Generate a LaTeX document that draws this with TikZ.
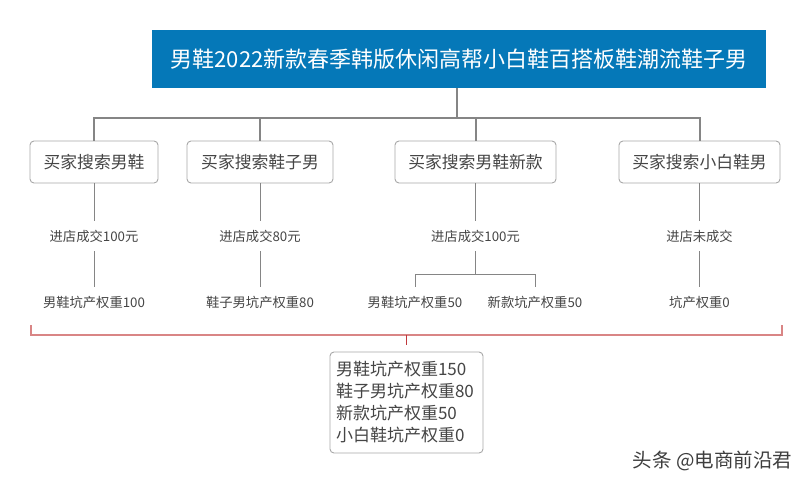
\documentclass[tikz,border=0pt]{standalone}
\usepackage{fontspec}
\setmainfont{Noto Sans CJK SC}
\definecolor{titleblue}{HTML}{0578B8}
\definecolor{linegray}{HTML}{858585}
\definecolor{boxgray}{HTML}{A8A8A8}
\definecolor{txt}{HTML}{454545}
\definecolor{redline}{HTML}{D98585}
\definecolor{redtick}{HTML}{C0383C}
\begin{document}
\begin{tikzpicture}[x=1pt,y=-1pt,
  titlebox/.style={fill=titleblue,text=white,inner sep=0,minimum width=614,minimum height=58,font=\fontsize{22}{26}\selectfont},
  searchbox/.style={draw=boxgray,line width=0.9pt,rounded corners=4pt,fill=white,text=txt,inner sep=0,minimum height=42,font=\fontsize{16.8}{20}\selectfont},
  lbl/.style={text=txt,inner sep=0,minimum height=30,font=\fontsize{13.3}{16}\selectfont},
  mainline/.style={draw=linegray,line width=2pt},
  thinline/.style={draw=linegray,line width=0.8pt},
  redbr/.style={draw=redline,line width=1.6pt},
  sumbox/.style={draw=boxgray,line width=0.9pt,rounded corners=4pt,text=txt,inner xsep=6,inner ysep=0,minimum width=153,minimum height=101,text width=141,align=left,font=\fontsize{17}{22}\selectfont}]
\path[fill=white] (0,0) rectangle (811,483);
\useasboundingbox (0,0) rectangle (811,483);

\node[titlebox] (t) at (459,59) {男鞋2022新款春季韩版休闲高帮小白鞋百搭板鞋潮流鞋子男};

\node[searchbox,minimum width=128] (b1) at (94,162) {买家搜索男鞋};
\node[searchbox,minimum width=146] (b2) at (260,162) {买家搜索鞋子男};
\node[searchbox,minimum width=161] (b3) at (475.5,162) {买家搜索男鞋新款};
\node[searchbox,minimum width=161] (b4) at (699.5,162) {买家搜索小白鞋男};

\coordinate (j) at (457,118);
\draw[mainline] (t.south -| j) -- (j);
\draw[mainline,line cap=rect] (b1.north |- j) -- (b4.north |- j);
\foreach \b in {b1,b2,b3,b4} \draw[mainline] (\b.north) -- (\b.north |- j);

\node[lbl] (m1) at (94,236) {进店成交100元};
\node[lbl] (m2) at (260,236) {进店成交80元};
\node[lbl] (m3) at (475.5,236) {进店成交100元};
\node[lbl] (m4) at (699.5,236) {进店未成交};

\node[lbl] (l1) at (94,302) {男鞋坑产权重100};
\node[lbl] (l2) at (260,302) {鞋子男坑产权重80};
\node[lbl] (l3a) at (415,302) {男鞋坑产权重50};
\node[lbl] (l3b) at (535,302) {新款坑产权重50};
\node[lbl] (l4) at (699.5,302) {坑产权重0};

\foreach \a/\c in {b1/m1,b2/m2,b3/m3,b4/m4,m1/l1,m2/l2,m4/l4} \draw[thinline] (\a.south) -- (\c.north);
\coordinate (s3) at (475.5,274);
\draw[thinline] (m3.south) -- (s3);
\draw[thinline] (l3a.north) -- (l3a.north |- s3) -- (l3b.north |- s3) -- (l3b.north);

\coordinate (rl) at (31,325);
\coordinate (rr) at (782,325);
\coordinate (rbl) at (31,335);
\coordinate (rbr) at (782,335);
\draw[redbr] (rl) -- (rbl) -- (rbr) -- (rr);

\node[sumbox] (fb) at (406.5,402.5) {男鞋坑产权重150\\鞋子男坑产权重80\\新款坑产权重50\\小白鞋坑产权重0};
\coordinate (tk1) at (406,335);
\coordinate (tk2) at (406,345);
\draw[draw=redtick,line width=1pt] (tk1) -- (tk2);

\node[text=white,inner sep=0,font=\fontsize{19.5}{22}\selectfont] (wms) at (713.5,462) {头条 @电商前沿君};
\node[text=txt!90!black,inner sep=0,font=\fontsize{19.5}{22}\selectfont] (wm) at (712.5,461) {头条 @电商前沿君};
\end{tikzpicture}
\end{document}
